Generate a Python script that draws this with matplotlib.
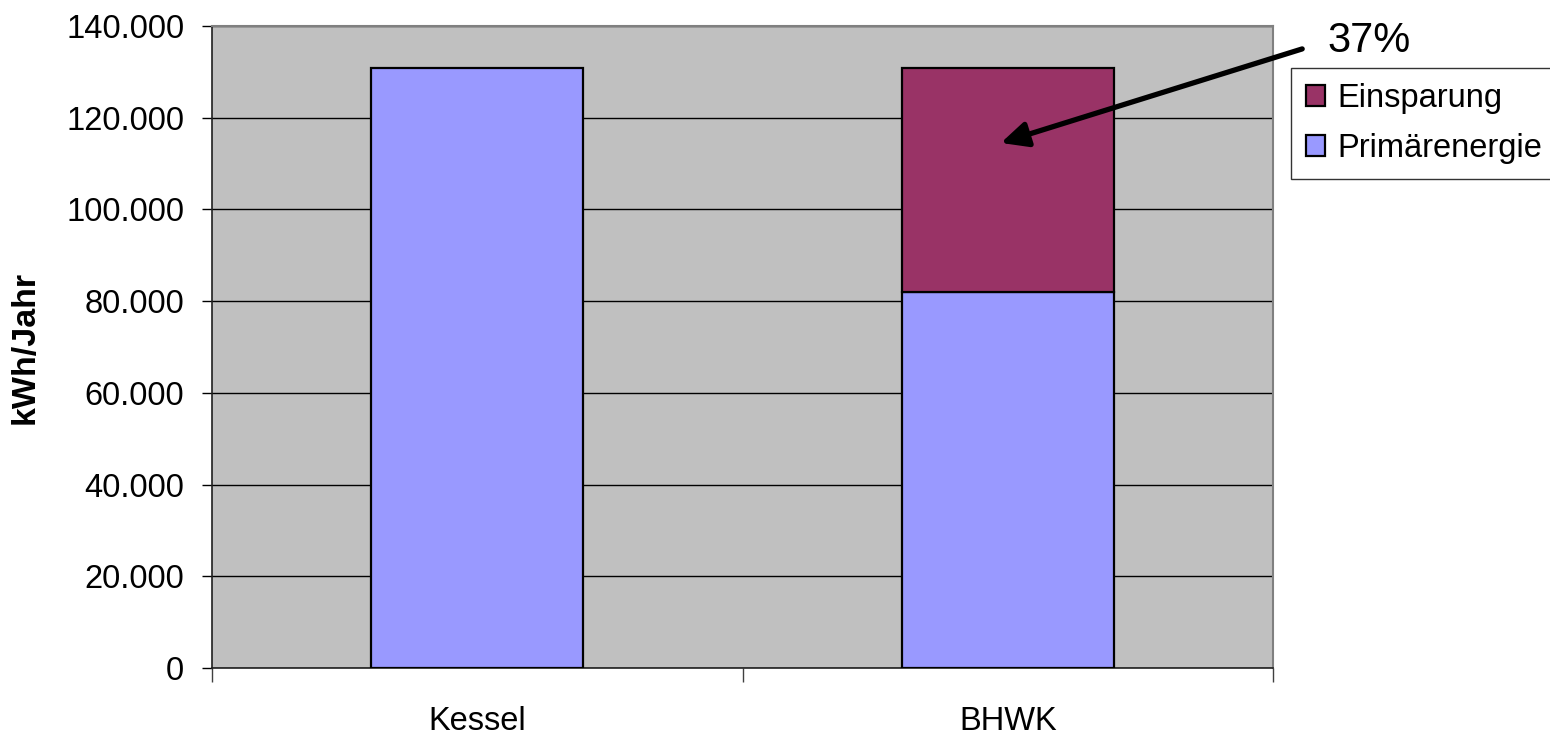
import matplotlib
matplotlib.use("Agg")
import matplotlib.pyplot as plt
from matplotlib.ticker import FuncFormatter, FixedLocator

plt.rcParams["font.family"] = ["Liberation Sans", "DejaVu Sans"]

categories = ["Kessel", "BHWK"]
primaerenergie = [130800, 82000]
einsparung = [0, 48800]
einsparung_pct = "37%"

FS = 23.5

fig = plt.figure(figsize=(15.5, 7.34), dpi=100)
ax = fig.add_axes([0.1368, 0.0899, 0.6845, 0.8747])
ax.set_facecolor("#C0C0C0")

x = list(range(len(categories)))
ax.bar(x, primaerenergie, width=0.4, color="#9999FF", edgecolor="black",
       linewidth=1.6, label="Primärenergie", zorder=3)
ax.bar(x[1:], einsparung[1:], bottom=primaerenergie[1:], width=0.4,
       color="#993366", edgecolor="black", linewidth=1.6,
       label="Einsparung", zorder=3)

ax.set_xlim(-0.5, 1.5)
ax.set_ylim(0, 140000)
ax.set_yticks(range(0, 140001, 20000))
ax.yaxis.set_major_formatter(
    FuncFormatter(lambda v, p: f"{int(v):,}".replace(",", ".")))
ax.grid(axis="y", color="black", linewidth=1.0, zorder=1)
ax.set_axisbelow(True)

# category boundaries get the tick marks, centres get the labels
ax.xaxis.set_major_locator(FixedLocator([-0.5, 0.5, 1.5]))
ax.xaxis.set_minor_locator(FixedLocator(x))
ax.set_xticklabels([], minor=False)
ax.set_xticklabels(categories, minor=True)
ax.tick_params(axis="x", which="major", length=10, width=1, color="#404040")
ax.tick_params(axis="x", which="minor", length=0, pad=27, labelsize=FS)
ax.tick_params(axis="y", length=7, width=1, pad=13, labelsize=FS)

for side in ("top", "right"):
    ax.spines[side].set_color("#808080")
    ax.spines[side].set_linewidth(1.5)
for side in ("left", "bottom"):
    ax.spines[side].set_color("#202020")
    ax.spines[side].set_linewidth(1.2)

ax.set_ylabel("kWh/Jahr", fontsize=24.5, fontweight="bold")
ax.yaxis.set_label_coords(-0.162, 0.5)

ax.annotate("", xy=(0.987, 114500), xytext=(1.555, 135000),
            arrowprops=dict(arrowstyle="-|>,head_length=0.8,head_width=0.38",
                            mutation_scale=20, color="black", lw=3.8,
                            shrinkA=0, shrinkB=0),
            annotation_clip=False, zorder=5)
fig.text(0.8835, 0.929, einsparung_pct, fontsize=30, ha="center",
         va="baseline")

handles, labels = ax.get_legend_handles_labels()
leg = fig.legend(handles[::-1], labels[::-1], loc="upper left",
                 bbox_to_anchor=(0.833, 0.9074), fontsize=FS, frameon=True,
                 fancybox=False, edgecolor="black", handlelength=0.6,
                 handleheight=0.6, handletextpad=0.37, borderpad=0.45,
                 labelspacing=0.6, borderaxespad=0)
leg.get_frame().set_linewidth(1.0)

fig.savefig("out.png", dpi=100, facecolor="white")
